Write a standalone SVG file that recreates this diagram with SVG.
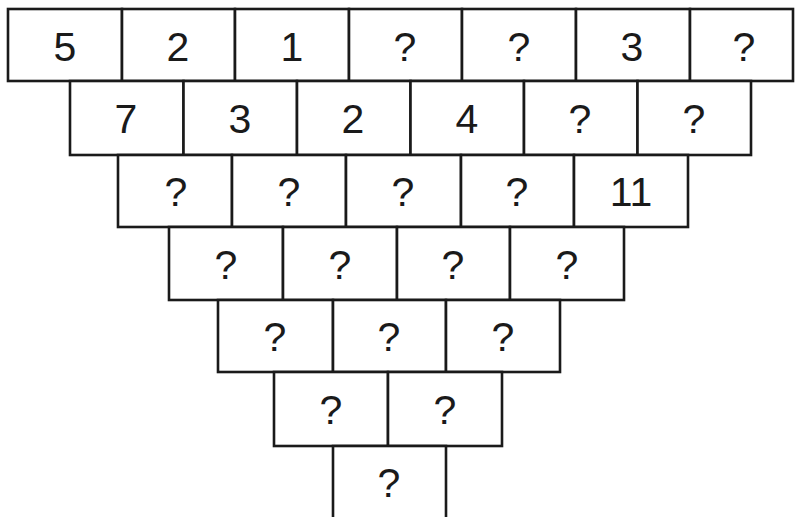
<svg xmlns="http://www.w3.org/2000/svg" width="795" height="517" viewBox="0 0 795 517">
<style>
rect.c{fill:#fff;stroke:#1a1a1a;stroke-width:2.6}
text{font-family:"Liberation Sans",Arial,sans-serif;font-size:41px;fill:#1a1a1a;text-anchor:middle}
</style>
<rect width="795" height="517" fill="#fff"/>
<g id="row1">
<g id="r1c1"><rect class="c" x="8" y="9" width="114" height="72"/><text x="65" y="61">5</text></g>
<g id="r1c2"><rect class="c" x="122" y="9" width="113" height="72"/><text x="178" y="61">2</text></g>
<g id="r1c3"><rect class="c" x="235" y="9" width="114" height="72"/><text x="292" y="61">1</text></g>
<g id="r1c4"><rect class="c" x="349" y="9" width="113" height="72"/><text x="405" y="61">?</text></g>
<g id="r1c5"><rect class="c" x="462" y="9" width="114" height="72"/><text x="519" y="61">?</text></g>
<g id="r1c6"><rect class="c" x="576" y="9" width="114" height="72"/><text x="632" y="61">3</text></g>
<g id="r1c7"><rect class="c" x="690" y="9" width="103" height="72"/><text x="744" y="61">?</text></g>
</g>
<g id="row2">
<g id="r2c1"><rect class="c" x="70" y="81" width="113.5" height="74"/><text x="126" y="133">7</text></g>
<g id="r2c2"><rect class="c" x="183.5" y="81" width="113.5" height="74"/><text x="240" y="133">3</text></g>
<g id="r2c3"><rect class="c" x="297" y="81" width="113.5" height="74"/><text x="353" y="133">2</text></g>
<g id="r2c4"><rect class="c" x="410.5" y="81" width="113.5" height="74"/><text x="467" y="133">4</text></g>
<g id="r2c5"><rect class="c" x="524" y="81" width="113.5" height="74"/><text x="580" y="133">?</text></g>
<g id="r2c6"><rect class="c" x="637.5" y="81" width="113.5" height="74"/><text x="694" y="133">?</text></g>
</g>
<g id="row3">
<g id="r3c1"><rect class="c" x="118" y="155" width="114" height="72"/><text x="176" y="206">?</text></g>
<g id="r3c2"><rect class="c" x="232" y="155" width="114" height="72"/><text x="289" y="206">?</text></g>
<g id="r3c3"><rect class="c" x="346" y="155" width="115" height="72"/><text x="403" y="206">?</text></g>
<g id="r3c4"><rect class="c" x="461" y="155" width="113" height="72"/><text x="517" y="206">?</text></g>
<g id="r3c5"><rect class="c" x="574" y="155" width="114" height="72"/><text x="631" y="206">11</text></g>
</g>
<g id="row4">
<g id="r4c1"><rect class="c" x="169" y="227" width="114" height="73"/><text x="226" y="279">?</text></g>
<g id="r4c2"><rect class="c" x="283" y="227" width="114" height="73"/><text x="340" y="279">?</text></g>
<g id="r4c3"><rect class="c" x="397" y="227" width="113" height="73"/><text x="453" y="279">?</text></g>
<g id="r4c4"><rect class="c" x="510" y="227" width="114" height="73"/><text x="567" y="279">?</text></g>
</g>
<g id="row5">
<g id="r5c1"><rect class="c" x="218" y="300" width="115" height="72"/><text x="275" y="351">?</text></g>
<g id="r5c2"><rect class="c" x="333" y="300" width="113" height="72"/><text x="389" y="351">?</text></g>
<g id="r5c3"><rect class="c" x="446" y="300" width="114" height="72"/><text x="503" y="351">?</text></g>
</g>
<g id="row6">
<g id="r6c1"><rect class="c" x="274" y="372" width="114" height="74"/><text x="331" y="424">?</text></g>
<g id="r6c2"><rect class="c" x="388" y="372" width="114" height="74"/><text x="445" y="424">?</text></g>
</g>
<g id="row7">
<g id="r7c1"><rect class="c" x="333" y="446" width="113" height="80"/><text x="389" y="497">?</text></g>
</g>
<g id="connectors"></g>
</svg>
